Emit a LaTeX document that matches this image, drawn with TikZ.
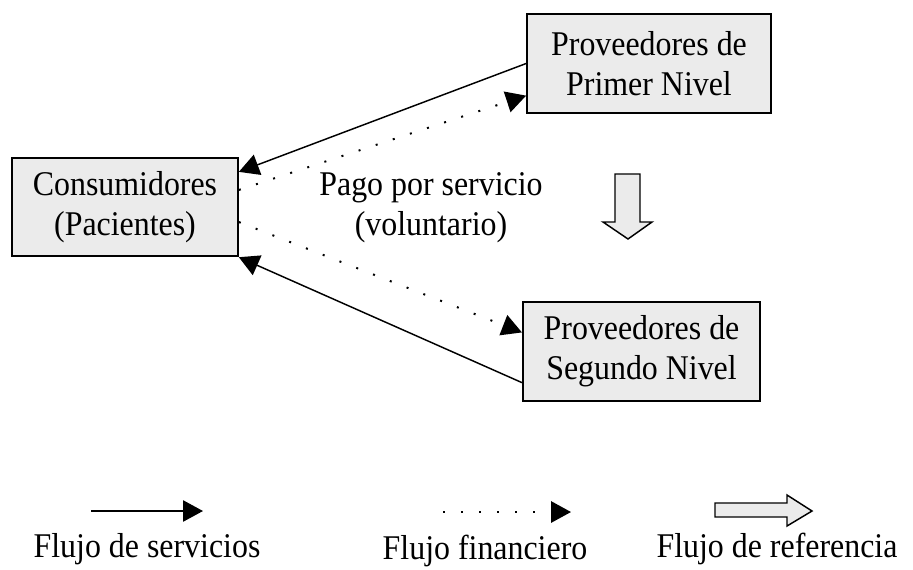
\documentclass[tikz,border=0pt]{standalone}
\usepackage{fontspec}
\setmainfont[FakeStretch=0.92]{Liberation Serif}
\usepackage{tikz}
\usetikzlibrary{arrows.meta,calc}

\begin{document}
\begin{tikzpicture}[x=0.75pt,y=-0.75pt,
			caja/.style={draw, line width=1.3pt, fill=black!8, align=center, minimum height=74pt, font=\fontsize{26}{30}\selectfont},
			texto/.style={align=center, font=\fontsize{26}{30}\selectfont},
			servicio/.style={line width=1.1pt, -{Triangle[length=15pt,width=16pt]}},
			financiero/.style={line width=1.5pt, dash pattern=on 1.5pt off 12pt, -{Triangle[length=15pt,width=16pt]}},
			referencia/.style={draw, line width=1.1pt, fill=black!8}
		]
		\useasboundingbox (0,0) rectangle (913,569);

		\node[caja, minimum width=183pt] (prim) at (649,63.5) {Proveedores de\\Primer Nivel};
		\node[caja, minimum width=169.5pt] (cons) at (125,207) {Consumidores\\(Pacientes)};
		\node[caja, minimum width=178pt] (segu) at (641.5,351.5) {Proveedores de\\Segundo Nivel};
		\node[texto] (pago) at (431,208) {Pago por servicio\\(voluntario)};

		\draw[servicio] (prim.west) -- ($(cons.north east)!0.15!(cons.south east)$);
		\draw[financiero] ($(cons.north east)!0.33!(cons.south east)$) -- ($(prim.north west)!0.82!(prim.south west)$);
		\draw[financiero] ($(cons.north east)!0.65!(cons.south east)$) -- ($(segu.north west)!0.31!(segu.south west)$);
		\draw[servicio] ($(segu.north west)!0.81!(segu.south west)$) -- (cons.south east);

		\draw[referencia] (615,174) -- (640,174) -- (640,222) -- (652,222) -- (628,239) -- (603,222) -- (615,222) -- cycle;

		% leyenda
		\coordinate (s1) at (91,511);
		\coordinate (s2) at (203,511);
		\coordinate (f1) at (443,512);
		\coordinate (f2) at (571,512);
		\draw[servicio] (s1) -- (s2);
		\draw[financiero] (f1) -- (f2);
		\draw[referencia] (715,503) -- (787,503) -- (787,495) -- (812,511) -- (787,526) -- (787,517) -- (715,517) -- cycle;

		\node[texto] (ls) at (147,549) {Flujo de servicios};
		\node[texto] (lf) at (485,551) {Flujo financiero};
		\node[texto] (lr) at (777,549) {Flujo de referencia};
	\end{tikzpicture}
\end{document}
